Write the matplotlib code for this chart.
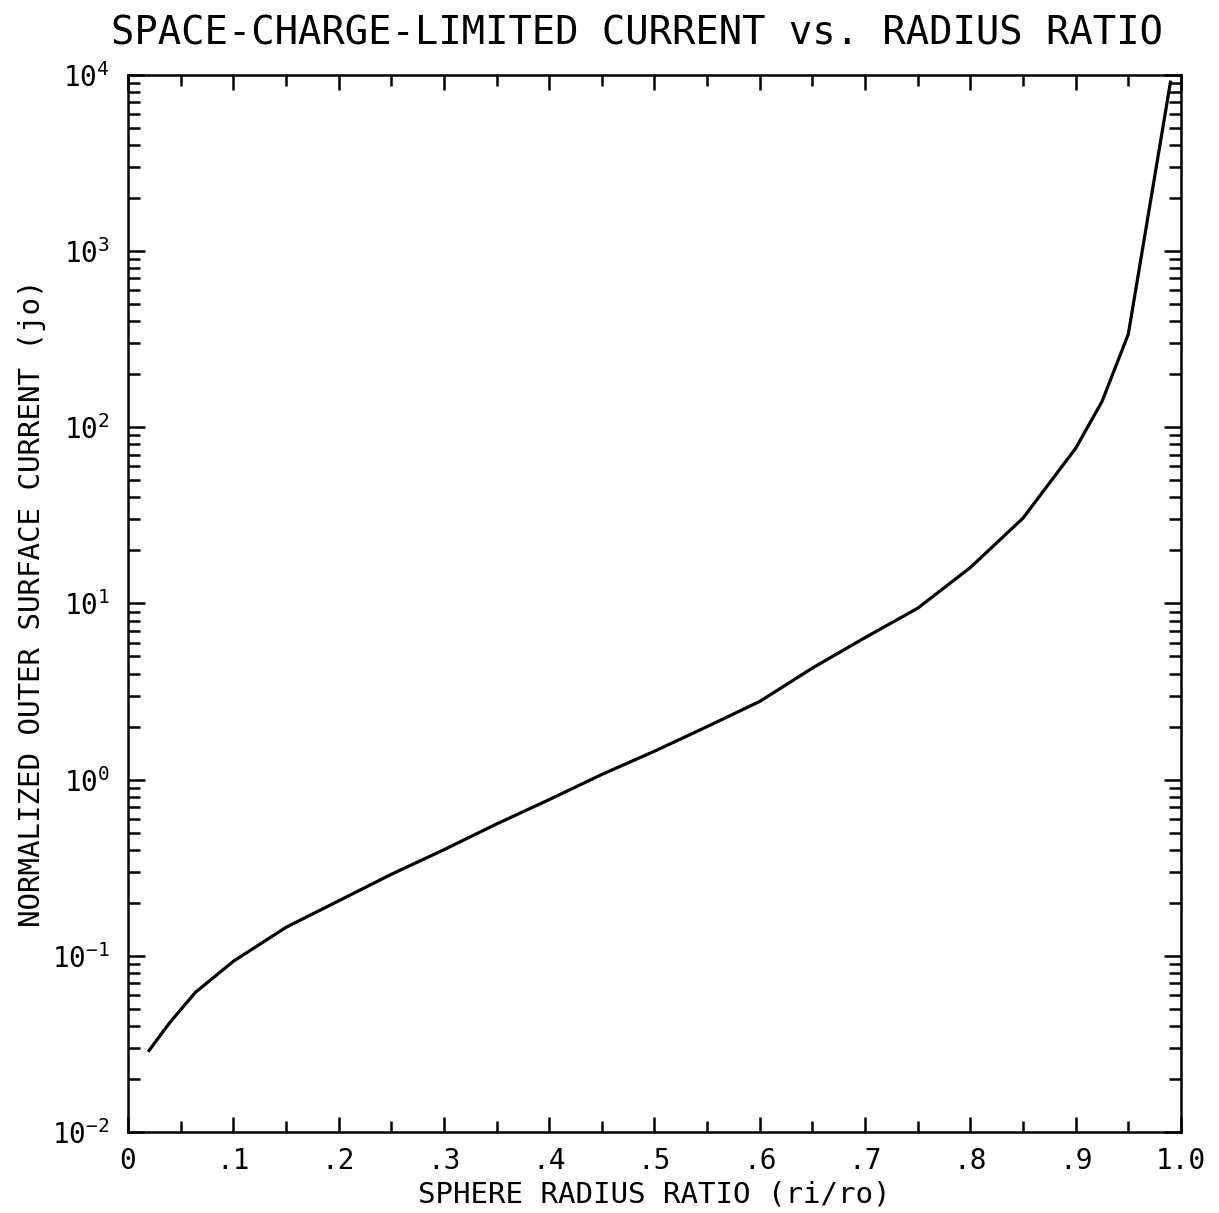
import matplotlib.pyplot as plt
from matplotlib.ticker import FixedLocator, LogLocator, NullFormatter

plt.rcParams['font.family'] = ['DejaVu Sans Mono', 'DejaVu Sans']
plt.rcParams['mathtext.fontset'] = 'custom'
plt.rcParams['mathtext.rm'] = 'DejaVu Sans Mono'
plt.rcParams['mathtext.it'] = 'DejaVu Sans Mono'

# Values
radius_ratio = [0.02, 0.04, 0.064, 0.1, 0.15, 0.2, 0.25, 0.3, 0.35, 0.4, 0.45,
                0.5, 0.55, 0.6, 0.65, 0.7, 0.75, 0.8, 0.85, 0.9, 0.925, 0.95, 0.99]
current = [0.029, 0.042, 0.062, 0.093, 0.145, 0.205, 0.29, 0.40, 0.56, 0.77, 1.07,
           1.45, 2.0, 2.78, 4.3, 6.4, 9.4, 16.0, 30.5, 76.0, 140.0, 338.0, 9100.0]

x_ticks = [0, 0.1, 0.2, 0.3, 0.4, 0.5, 0.6, 0.7, 0.8, 0.9, 1.0]
x_tick_labels = ['0', '.1', '.2', '.3', '.4', '.5', '.6', '.7', '.8', '.9', '1.0']
y_ticks = [1e-2, 1e-1, 1e0, 1e1, 1e2, 1e3, 1e4]
y_tick_labels = ['10$^{-2}$', '10$^{-1}$', '10$^{0}$', '10$^{1}$',
                 '10$^{2}$', '10$^{3}$', '10$^{4}$']

fig = plt.figure(figsize=(12.19, 12.13), dpi=100)
ax = fig.add_axes([0.105, 0.0668, 0.8638, 0.8714])

ax.plot(radius_ratio, current, color='black', linewidth=2.3)

ax.set_yscale('log')
ax.set_xlim(0, 1.0)
ax.set_ylim(1e-2, 1e4)

ax.set_xticks(x_ticks)
ax.set_xticklabels(x_tick_labels)
ax.xaxis.set_minor_locator(FixedLocator([0.05 + 0.1 * i for i in range(10)]))
ax.set_yticks(y_ticks)
ax.set_yticklabels(y_tick_labels)
ax.yaxis.set_minor_locator(LogLocator(base=10, subs=range(2, 10), numticks=20))
ax.yaxis.set_minor_formatter(NullFormatter())

ax.tick_params(which='both', direction='in', top=True, right=True, width=1.8,
               labelsize=20, color='black')
ax.tick_params(axis='x', which='major', length=11, pad=11)
ax.tick_params(axis='x', which='minor', length=8)
ax.tick_params(axis='y', which='major', length=12, pad=13)
ax.tick_params(axis='y', which='minor', length=8.5)

for spine in ax.spines.values():
    spine.set_linewidth(1.8)

ax.set_title('SPACE-CHARGE-LIMITED CURRENT vs. RADIUS RATIO', fontsize=28,
             pad=22, x=0.483)
ax.set_xlabel('SPHERE RADIUS RATIO (ri/ro)', fontsize=21, labelpad=4)
ax.set_ylabel('NORMALIZED OUTER SURFACE CURRENT (jo)', fontsize=21, labelpad=4)

fig.savefig('out.png', dpi=100)
